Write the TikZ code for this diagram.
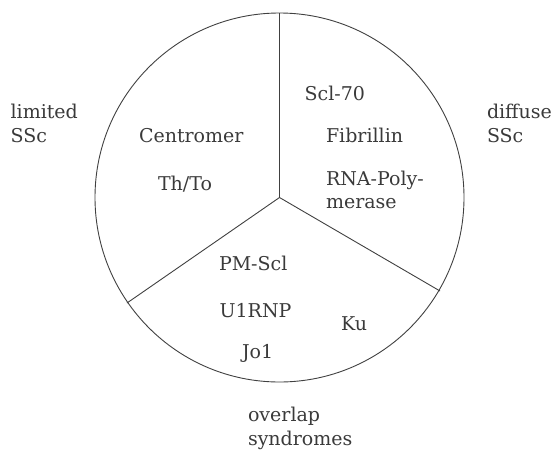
\documentclass[tikz,border=0pt]{standalone}
\usepackage{fontspec}
\setmainfont{DejaVu Serif}
\definecolor{txt}{HTML}{3A3A3A}
\definecolor{ln}{HTML}{404040}
\begin{document}
\begin{tikzpicture}[x=1pt,y=-1pt,
  lab/.style={inner sep=0pt,outer sep=0pt,anchor=base west,text=txt,font=\fontsize{19}{23}\selectfont},
  rim/.style={draw=ln,line width=0.9pt}]
\useasboundingbox (0,0) rectangle (554,450);
\coordinate (c) at (279.5,197.5);
\draw[rim] (c) circle[radius=184.5];
\coordinate (ptop) at (279.5,13);
\coordinate (pleft) at (127,303);
\coordinate (pright) at (440,291);
\draw[rim] (c) -- (ptop);
\draw[rim] (c) -- (pleft);
\draw[rim] (c) -- (pright);
% outer labels
\node[lab] (lim1) at (10.6,118) {limited};
\node[lab] (lim2) at (10.6,142) {SSc};
\node[lab] (dif1) at (487,118) {diffuse};
\node[lab] (dif2) at (487,142) {SSc};
\node[lab] (ov1) at (248,421.5) {overlap};
\node[lab] (ov2) at (248,445) {syndromes};
% left sector
\node[lab] (cen) at (139,142) {Centromer};
\node[lab] (th) at (158,190) {Th/To};
% right sector
\node[lab] (scl) at (304.6,100) {Scl-70};
\node[lab] (fib) at (326,142.7) {Fibrillin};
\node[lab] (rna1) at (326,185) {RNA-Poly-};
\node[lab] (rna2) at (326,208) {merase};
% bottom sector
\node[lab] (pm) at (219,270) {PM-Scl};
\node[lab] (u1) at (219.6,317) {U1RNP};
\node[lab] (ku) at (341,330) {Ku};
\node[lab] (jo) at (242,358) {Jo1};
\end{tikzpicture}
\end{document}
